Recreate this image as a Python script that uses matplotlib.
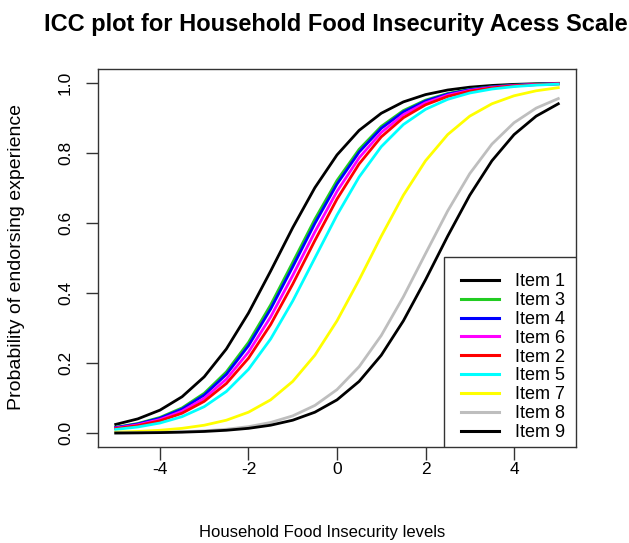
import matplotlib
matplotlib.use('Agg')
import matplotlib.pyplot as plt
from matplotlib.patches import Rectangle

plt.rcParams['font.family'] = ['Liberation Sans', 'DejaVu Sans']

theta = [-5.0, -4.5, -4.0, -3.5, -3.0, -2.5, -2.0, -1.5, -1.0, -0.5, 0.0,
         0.5, 1.0, 1.5, 2.0, 2.5, 3.0, 3.5, 4.0, 4.5, 5.0]

item1 = [0.0253, 0.0411, 0.0660, 0.1043, 0.1611, 0.2405, 0.3430, 0.4626, 0.5866, 0.7006, 0.7941,
         0.8641, 0.9129, 0.9453, 0.9661, 0.9792, 0.9873, 0.9922, 0.9953, 0.9971, 0.9983]
item3 = [0.0171, 0.0279, 0.0452, 0.0724, 0.1141, 0.1751, 0.2592, 0.3659, 0.4875, 0.6106, 0.7211,
         0.8100, 0.8754, 0.9206, 0.9503, 0.9692, 0.9811, 0.9885, 0.9930, 0.9957, 0.9974]
item4 = [0.0163, 0.0266, 0.0431, 0.0691, 0.1091, 0.1680, 0.2497, 0.3543, 0.4750, 0.5987, 0.7109,
         0.8022, 0.8699, 0.9168, 0.9478, 0.9677, 0.9802, 0.9879, 0.9926, 0.9955, 0.9973]
item6 = [0.0148, 0.0241, 0.0392, 0.0630, 0.0998, 0.1545, 0.2315, 0.3318, 0.4502, 0.5744, 0.6900,
         0.7858, 0.8581, 0.9089, 0.9427, 0.9644, 0.9781, 0.9866, 0.9918, 0.9950, 0.9970]
item2 = [0.0134, 0.0219, 0.0356, 0.0573, 0.0911, 0.1419, 0.2142, 0.3100, 0.4256, 0.5498, 0.6682,
         0.7685, 0.8455, 0.9002, 0.9370, 0.9608, 0.9759, 0.9852, 0.9910, 0.9945, 0.9967]
item5 = [0.0110, 0.0180, 0.0293, 0.0474, 0.0759, 0.1192, 0.1824, 0.2689, 0.3775, 0.5000, 0.6225,
         0.7311, 0.8176, 0.8808, 0.9241, 0.9526, 0.9707, 0.9820, 0.9890, 0.9933, 0.9959]
item7 = [0.0032, 0.0052, 0.0086, 0.0141, 0.0230, 0.0373, 0.0601, 0.0953, 0.1480, 0.2227, 0.3208,
         0.4378, 0.5622, 0.6792, 0.7773, 0.8520, 0.9047, 0.9399, 0.9627, 0.9770, 0.9859]
item8 = [0.0010, 0.0016, 0.0026, 0.0043, 0.0070, 0.0115, 0.0189, 0.0308, 0.0497, 0.0794, 0.1246,
         0.1900, 0.2789, 0.3894, 0.5125, 0.6341, 0.7408, 0.8249, 0.8859, 0.9276, 0.9548]
item9 = [0.0007, 0.0012, 0.0019, 0.0032, 0.0052, 0.0086, 0.0141, 0.0230, 0.0373, 0.0601, 0.0953,
         0.1480, 0.2227, 0.3208, 0.4378, 0.5622, 0.6792, 0.7773, 0.8520, 0.9047, 0.9399]

labels = ['Item 1', 'Item 3', 'Item 4', 'Item 6', 'Item 2', 'Item 5', 'Item 7', 'Item 8', 'Item 9']
series = [item1, item3, item4, item6, item2, item5, item7, item8, item9]
colors = ['black', '#22cc22', '#0000ff', '#ff00ff', '#ff0000', '#00ffff', '#ffff00', '#bebebe', 'black']

fig = plt.figure(figsize=(6.29, 5.43), dpi=100)
ax = fig.add_axes([98 / 629, 1 - 447.3 / 543, 478 / 629, 378.6 / 543])

for y, c, lab in zip(series, colors, labels):
    ax.plot(theta, y, color=c, lw=2, label=lab)

ax.set_xlim(-5.4, 5.4)
ax.set_ylim(-0.04, 1.04)
ax.set_xticks([-4, -2, 0, 2, 4])
ax.set_xticklabels(['-4', '-2', '0', '2', '4'])
ax.set_yticks([0.0, 0.2, 0.4, 0.6, 0.8, 1.0])
ax.set_yticklabels(['0.0', '0.2', '0.4', '0.6', '0.8', '1.0'], rotation=90, va='center')
ax.tick_params(axis='both', length=9, width=1, labelsize=12.5, color='#333333')
ax.tick_params(axis='x', pad=1.5)
ax.tick_params(axis='y', pad=9)
for s in ax.spines.values():
    s.set_color('#333333')
    s.set_linewidth(1)

# legend box (R style: anchored bottom right, more room on top)
ax.add_patch(Rectangle((0.724, 0.0), 0.276, 0.5026, transform=ax.transAxes,
                       facecolor='white', edgecolor='#333333', lw=1, zorder=5))
leg = ax.legend(loc='upper left', bbox_to_anchor=(0.7594, 0.46), fontsize=13, frameon=False,
                borderaxespad=0, borderpad=0, labelspacing=0.103, handlelength=2.1,
                handletextpad=0.9)
leg.set_zorder(6)
for line in leg.get_lines():
    line.set_linewidth(2.2)

fig.text(335.5 / 629, 1 - 24 / 543, 'ICC plot for Household Food Insecurity Acess Scale',
         ha='center', va='center', fontsize=17, fontweight='bold')
fig.text(17 / 629, 1 - 257 / 543, 'Probability of endorsing experience',
         ha='center', va='center', rotation=90, fontsize=14)
fig.text(322 / 629, 1 - 533 / 543, 'Household Food Insecurity levels',
         ha='center', va='center', fontsize=12)

fig.savefig('out.png', dpi=100)
